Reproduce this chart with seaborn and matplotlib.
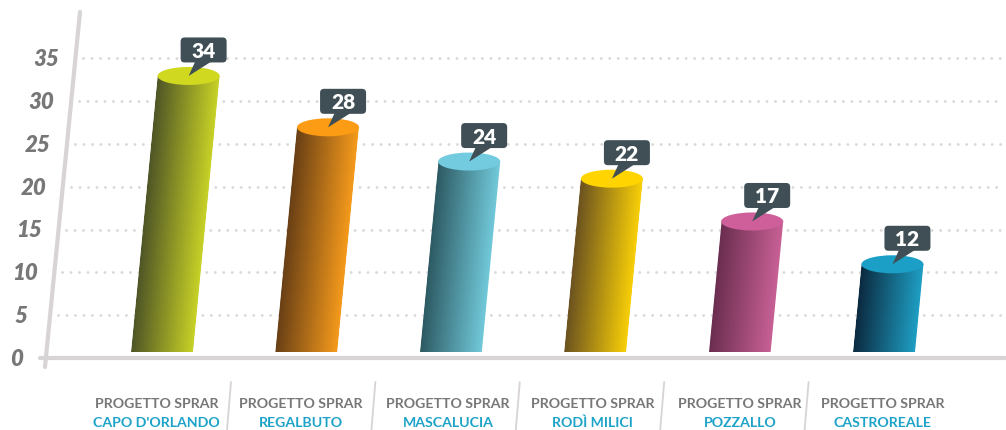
"""
Progetto SPRAR bar chart: slanted cylinders with callout labels.
"""

import numpy as np
import pandas as pd
import matplotlib
matplotlib.use("Agg")
import matplotlib.pyplot as plt
from matplotlib.colors import to_rgb
from matplotlib.patches import Ellipse, FancyBboxPatch, Polygon
from matplotlib.transforms import Affine2D
import seaborn as sns

# Data
comuni = ["CAPO D'ORLANDO", "REGALBUTO", "MASCALUCIA", "RODÌ MILICI", "POZZALLO", "CASTROREALE"]
valori = [34, 28, 24, 22, 17, 12]
y_ticks = [0, 5, 10, 15, 20, 25, 30, 35]
progetto = "PROGETTO SPRAR"

# Colours: cylinder lid, dark side of the gradient
top_colors = ["#d0d820", "#fb9c14", "#72cbdf", "#ffd400", "#cf5f9b", "#1b9fc6"]
dark_colors = ["#4f5526", "#683f15", "#2d5a63", "#6b5220", "#6b2e50", "#0b2a40"]
side_colors = ["#c8d226", "#f59a1c", "#72cadb", "#f8cf08", "#c96196", "#1f9fc4"]

GREY = "#777777"
BLUE = "#1ea3c8"
AXIS = "#d8d3d5"
DARK = "#3f4f55"

# Layout: the axes fill the figure, one category = 144.4 px, one unit = 8.56 px
W, H = 1006, 430
PX_X = 144.4
PX_Y = 8.56
X0 = 161.4
Y0 = 358
SLANT = 0.0965 * PX_Y / PX_X  # category units per value unit
AXIS_SLANT = 0.0986 * PX_Y / PX_X
BAR_W = 0.43
LID_H = 18 / PX_Y
BAR_FOOT = 0.7
LABEL_NUDGE = [-5, -5, -2, -2, 1, -1]

sns.set_theme(style="white")
plt.rcParams["font.family"] = ["Lato", "DejaVu Sans"]

df = pd.DataFrame({"comune": comuni, "valore": valori})

fig = plt.figure(figsize=(W / 100, H / 100), dpi=100)
ax = fig.add_axes([0, 0, 1, 1])
sns.barplot(data=df, x="comune", y="valore", hue="comune", palette=top_colors,
            width=BAR_W, dodge=False, legend=False, ax=ax)

xlim = (-X0 / PX_X, (W - X0) / PX_X)
ylim = ((Y0 - H) / PX_Y, Y0 / PX_Y)
skew = Affine2D.from_values(1, 0, SLANT, 1, 0, 0) + ax.transData
axis_skew = Affine2D.from_values(1, 0, AXIS_SLANT, 1, 0, 0) + ax.transData

# Dotted grid, starts just right of the slanted axis, ends at the same x
for t in y_ticks[1:]:
    ax.plot([(58 - X0) / PX_X + AXIS_SLANT * (t - 5), (1003 - X0) / PX_X], [t, t],
            color="#d9d9d9", lw=2.1, linestyle=(0, (0.01, 2.9)),
            dash_capstyle="round", zorder=1)

# Axis lines
ax.plot([(40 - X0) / PX_X, (1005 - X0) / PX_X], [0, 0], color=AXIS, lw=3,
        solid_capstyle="round", zorder=2)
ax.plot([(45 - X0) / PX_X, (80 - X0) / PX_X], [(Y0 - 367) / PX_Y, (Y0 - 12) / PX_Y],
        color=AXIS, lw=3, solid_capstyle="round", zorder=2)

# Tick labels sit along the slanted axis
for t in y_ticks:
    ax.text((16.5 - X0) / PX_X, t - 0.15, str(t), transform=axis_skew, ha="center", va="center",
            color=GREY, fontsize=16, fontweight="heavy", fontstyle="italic")

# Bars: seaborn rectangles get slanted and used as clip for the gradient
for i, bar in enumerate(ax.patches):
    v = valori[i]
    lid_y = v - LID_H / 2
    x_left = bar.get_x()
    bar.set_y(BAR_FOOT)
    bar.set_height(lid_y - BAR_FOOT)
    bar.set_transform(skew)
    bar.set_facecolor("none")
    bar.set_edgecolor("none")
    bar.set_zorder(3)

    grad = np.linspace(0, 1, 128)[None, :, None]
    rgb = np.array(to_rgb(dark_colors[i])) * (1 - grad) + np.array(to_rgb(side_colors[i])) * grad
    rgba = np.dstack([rgb, np.ones(rgb.shape[:2])])
    im = ax.imshow(rgba, extent=(x_left, x_left + BAR_W, BAR_FOOT, lid_y), aspect="auto",
                   transform=skew, zorder=3, interpolation="bilinear")
    im.set_clip_path(bar.get_path(), bar.get_transform())

    xc = i + SLANT * lid_y
    ax.add_patch(Ellipse((xc, lid_y), BAR_W, LID_H, facecolor=top_colors[i],
                         edgecolor="none", zorder=4))

    # Callout with pointer on the lid centre
    box_x = xc - 8 / PX_X
    box_y = v + 4.5 / PX_Y
    box_w = 46 / PX_X
    box_h = 25 / PX_Y
    ax.add_patch(FancyBboxPatch((box_x, box_y), box_w, box_h,
                                boxstyle=f"round,pad=0,rounding_size={4 / PX_X}",
                                mutation_aspect=PX_X / PX_Y, facecolor=DARK,
                                edgecolor="none", zorder=5))
    ax.add_patch(Polygon([(xc, lid_y), (xc + 7 / PX_X, box_y + 0.2), (xc + 24 / PX_X, box_y + 0.2)],
                         closed=True, facecolor=DARK, edgecolor="none", zorder=5))
    ax.text(box_x + box_w / 2, box_y + box_h / 2, str(v), ha="center", va="center_baseline",
            color="white", fontsize=15, fontweight="heavy", zorder=6)

# Category labels and slanted separators
for i, comune in enumerate(comuni):
    xt = i + LABEL_NUDGE[i] / PX_X
    ax.text(xt, (Y0 - 404) / PX_Y, progetto, ha="center", va="center",
            color=GREY, fontsize=10.2, fontweight="bold")
    ax.text(xt, (Y0 - 423) / PX_Y, comune, ha="center", va="center",
            color=BLUE, fontsize=10.2, fontweight="bold")
    if i < len(comuni) - 1:
        ax.plot([i + (231 - X0) / PX_X, i + (227 - X0) / PX_X],
                [(Y0 - 382) / PX_Y, (Y0 - 430) / PX_Y], color=AXIS, lw=1.3, zorder=2)

ax.set_xlim(xlim)
ax.set_ylim(ylim)
ax.set_xlabel("")
ax.set_ylabel("")
ax.set_xticks([])
ax.set_yticks([])
sns.despine(ax=ax, left=True, bottom=True)

plt.savefig("out.png", dpi=100)
plt.close()
